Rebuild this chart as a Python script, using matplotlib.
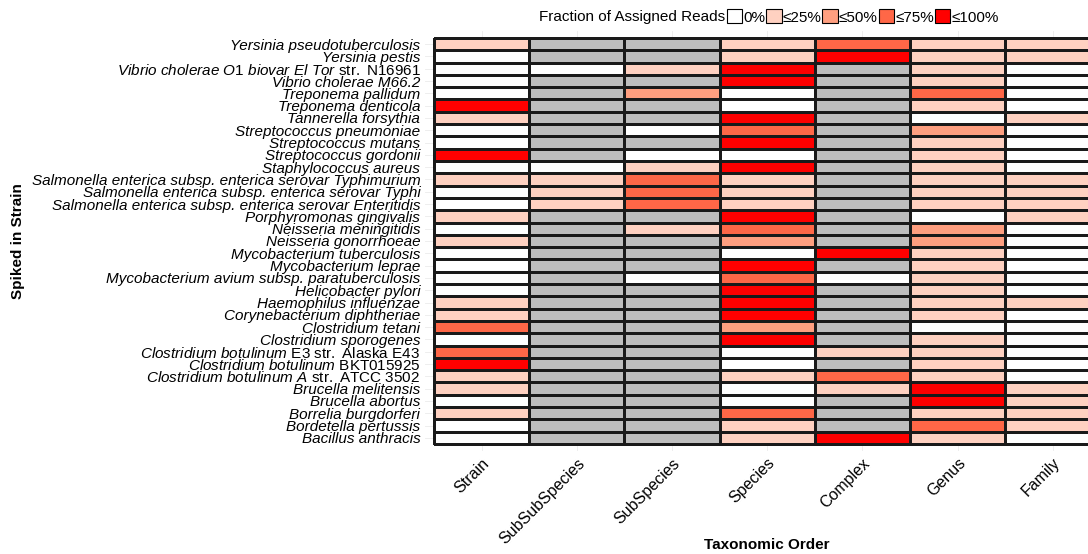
import numpy as np
import matplotlib
matplotlib.use("Agg")
import matplotlib.pyplot as plt
from matplotlib.colors import ListedColormap
from matplotlib.patches import Patch

plt.rcParams['font.family'] = ['Liberation Sans', 'DejaVu Sans']
plt.rcParams['mathtext.fontset'] = 'custom'
plt.rcParams['mathtext.rm'] = 'Liberation Sans'
plt.rcParams['mathtext.it'] = 'Liberation Sans:italic'
plt.rcParams['mathtext.bf'] = 'Liberation Sans:bold'

# strains, top to bottom
strains = [
    "Yersinia pseudotuberculosis", "Yersinia pestis",
    "Vibrio cholerae O1 biovar El Tor str. N16961", "Vibrio cholerae M66.2",
    "Treponema pallidum", "Treponema denticola", "Tannerella forsythia",
    "Streptococcus pneumoniae", "Streptococcus mutans", "Streptococcus gordonii",
    "Staphylococcus aureus",
    "Salmonella enterica subsp. enterica serovar Typhimurium",
    "Salmonella enterica subsp. enterica serovar Typhi",
    "Salmonella enterica subsp. enterica serovar Enteritidis",
    "Porphyromonas gingivalis", "Neisseria meningitidis", "Neisseria gonorrhoeae",
    "Mycobacterium tuberculosis", "Mycobacterium leprae",
    "Mycobacterium avium subsp. paratuberculosis", "Helicobacter pylori",
    "Haemophilus influenzae", "Corynebacterium diphtheriae", "Clostridium tetani",
    "Clostridium sporogenes", "Clostridium botulinum E3 str. Alaska E43",
    "Clostridium botulinum BKT015925", "Clostridium botulinum A str. ATCC 3502",
    "Brucella melitensis", "Brucella abortus", "Borrelia burgdorferi",
    "Bordetella pertussis", "Bacillus anthracis",
]
# part of the name that is not in italics
upright_part = {
    "Vibrio cholerae O1 biovar El Tor str. N16961": "str. N16961 ",
    "Clostridium botulinum E3 str. Alaska E43": "E3 str. Alaska E43 ",
    "Clostridium botulinum BKT015925": "BKT015925",
    "Clostridium botulinum A str. ATCC 3502": "str. ATCC 3502 ",
}

levels = ["Strain", "SubSubSpecies", "SubSpecies", "Species", "Complex", "Genus", "Family"]
bin_labels = ["0%", "≤25%", "≤50%", "≤75%", "≤100%"]

N = None
# bin code per strain (0: 0%, 1: <=25%, 2: <=50%, 3: <=75%, 4: <=100%, None: NA)
strain_lvl = [1, 0, 0, 0, 0, 4, 1, 0, 0, 4, 0, 1, 0, 0, 1, 0, 1, 0, 0, 0, 0, 1, 1, 3, 0, 3, 4, 1, 1, 0, 1, 0, 0]
subsubspecies_lvl = [N, N, 0, N, N, N, N, N, N, N, 0, 1, 1, 1, N, N, N, N, N, N, N, N, N, N, N, N, N, N, N, N, N, N, N]
subspecies_lvl = [N, N, 1, N, 2, N, N, 0, N, 0, 1, 3, 3, 3, N, 1, N, N, N, 0, N, N, N, N, N, N, N, N, N, N, N, N, N]
species_lvl = [1, 1, 4, 4, 0, 0, 4, 3, 4, 0, 4, 1, 1, 1, 4, 3, 2, 0, 4, 3, 4, 4, 4, 2, 4, 0, 0, 1, 0, 0, 3, 1, 1]
complex_lvl = [3, 4, N, N, N, N, N, N, N, N, N, N, N, N, N, N, N, 4, N, 0, N, N, N, N, N, 1, N, 3, 1, N, N, N, 4]
genus_lvl = [1, 1, 1, 1, 3, 1, 0, 2, 1, 1, 1, 1, 1, 1, 0, 2, 2, 1, 1, 1, 1, 1, 1, 0, 1, 1, 1, 1, 4, 4, 1, 3, 1]
family_lvl = [1, 1, 0, 0, 0, 0, 1, 0, 0, 0, 0, 1, 1, 1, 1, 0, 0, 0, 0, 0, 0, 1, 0, 0, 0, 0, 0, 0, 1, 1, 1, 1, 0]

bin_colors = ["#FFFFFF", "#FFD1C1", "#FF9F80", "#FF6747", "#FF0000"]
na_color = "#BEBEBE"

cols = [strain_lvl, subsubspecies_lvl, subspecies_lvl, species_lvl, complex_lvl, genus_lvl, family_lvl]
grid = np.array([[np.nan if v is None else v for v in c] for c in cols], dtype=float).T
grid = np.ma.masked_invalid(grid)


def make_label(name):
    if name not in upright_part:
        return name
    up = upright_part[name]
    it = name[:len(name) - len(up.rstrip())].rstrip()
    esc = lambda s: s.replace(" ", r"\ ")
    return r"$\mathit{" + esc(it) + r"}\ \mathrm{" + esc(up) + "}$"


cmap = ListedColormap(bin_colors)
cmap.set_bad(na_color)

fig = plt.figure(figsize=(10.88, 5.54), dpi=100)
ax = fig.add_axes([0.3902, 0.1852, 0.6098, 0.7596])

nr, nc = grid.shape
ax.pcolormesh(np.arange(nc + 1) - 0.5, np.arange(nr + 1) - 0.5, grid,
              cmap=cmap, vmin=-0.5, vmax=4.5, edgecolors="#1a1a1a", linewidth=0.85, zorder=2)

ax.set_xlim(-0.6, 6.37)
ax.set_ylim(nr - 0.5 + 0.6, -0.5 - 0.6)

ax.set_xticks(range(nc))
ax.set_xticklabels(levels, rotation=45, ha="right", va="top", rotation_mode="anchor", fontsize=11.5)
ax.set_yticks(range(nr))
ax.set_yticklabels([make_label(s) for s in strains], fontsize=11, style="italic")
ax.tick_params(length=0)
ax.tick_params(axis="y", pad=3)
ax.tick_params(axis="x", pad=3)
ax.grid(True, color="#ebebeb", linewidth=0.6, zorder=0)
ax.set_axisbelow(True)
for sp in ax.spines.values():
    sp.set_visible(False)

fig.text(18 / 1088, 1 - 241 / 554, "Spiked in Strain", rotation=90, ha="center", va="center",
         fontsize=11, fontweight="bold")
fig.text(767 / 1088, 1 - 545 / 554, "Taxonomic Order", ha="center", va="center",
         fontsize=11, fontweight="bold")

# legend on top
fig.text(725 / 1088, 1 - 17 / 554, "Fraction of Assigned Reads", ha="right", va="center", fontsize=11)
handles = [Patch(facecolor=c, edgecolor="black", linewidth=0.8) for c in bin_colors]
fig.legend(handles, bin_labels, loc="center left", bbox_to_anchor=(727 / 1088, 1 - 17 / 554),
           ncol=5, frameon=False, fontsize=11, handlelength=1.0, handleheight=1.0,
           handletextpad=0.08, columnspacing=0.05, borderpad=0, borderaxespad=0)

fig.savefig("out.png", dpi=100)
